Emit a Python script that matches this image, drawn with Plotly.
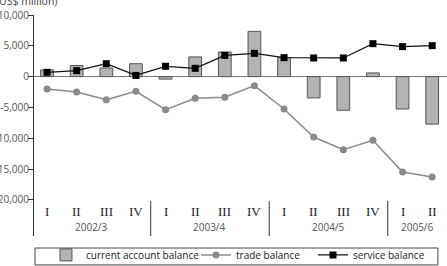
import plotly.graph_objects as go

years = ["2002/3", "2003/4", "2004/5", "2005/6"]
quarters_per_year = [["I", "II", "III", "IV"], ["I", "II", "III", "IV"], ["I", "II", "III", "IV"], ["I", "II"]]
categories = [f"{y} {q}" for y, qs in zip(years, quarters_per_year) for q in qs]
quarter_labels = [q for qs in quarters_per_year for q in qs]

current_account = [1100, 1800, 1400, 2100, -400, 3200, 4000, 7350, 3100, -3450, -5450, 600, -5250, -7700]
trade_balance = [-2000, -2480, -3730, -2380, -5360, -3520, -3350, -1460, -5250, -9790, -11850, -10330, -15470, -16280]
service_balance = [700, 970, 2100, 200, 1680, 1350, 3450, 3780, 3080, 3030, 3030, 5350, 4870, 5030]

y_ticks = [10000, 5000, 0, -5000, -10000, -15000, -20000]
y_tick_text = [f"{v:,}" for v in y_ticks]

SANS = "Open Sans, Noto Sans, sans-serif"
SERIF = "Liberation Serif, DejaVu Serif, serif"

fig = go.Figure()
fig.add_trace(go.Bar(
    x=categories, y=current_account, name="current account balance",
    marker=dict(color="#b3b3b3", line=dict(color="#555555", width=1)),
    width=0.43, legendwidth=105,
))
fig.add_trace(go.Scatter(
    x=categories, y=trade_balance, name="trade balance", mode="lines+markers",
    line=dict(color="#8a8a8a", width=1.5),
    marker=dict(color="#8a8a8a", size=7, symbol="circle"),
    legendwidth=72,
))
fig.add_trace(go.Scatter(
    x=categories, y=service_balance, name="service balance", mode="lines+markers",
    line=dict(color="#111111", width=1.3),
    marker=dict(color="#000000", size=7, symbol="square"),
))

annotations = []
for c, q in zip(categories, quarter_labels):
    annotations.append(dict(x=c, y=0.109, xref="x", yref="paper", text=q, showarrow=False,
                            font=dict(family=SERIF, size=13, color="#222222"),
                            xanchor="center", yanchor="middle"))
idx = 0
shapes = []
for y, qs in zip(years, quarters_per_year):
    n = len(qs)
    center = idx + (n - 1) / 2
    annotations.append(dict(x=center, y=0.041, xref="x", yref="paper", text=y, showarrow=False,
                            font=dict(family=SANS, size=10, color="#555555"),
                            xanchor="center", yanchor="middle"))
    idx += n
    if idx < len(categories):
        shapes.append(dict(type="line", xref="x", yref="paper", x0=idx - 0.5, x1=idx - 0.5,
                           y0=0.0, y1=0.158, line=dict(color="#333333", width=1)))

# legend frame
shapes.append(dict(type="rect", xref="paper", yref="paper", x0=0.0024, x1=0.978,
                   y0=-0.131, y1=-0.0543, line=dict(color="#444444", width=1),
                   fillcolor="rgba(0,0,0,0)", layer="above"))

annotations.append(dict(x=0, y=1, xref="paper", yref="paper", text="(US$ million)", showarrow=False,
                        xanchor="left", yanchor="middle", xshift=-40, yshift=14,
                        font=dict(family=SANS, size=10.5, color="#444444")))

fig.update_layout(
    width=447, height=266,
    margin=dict(l=34, r=0, t=15, b=30, autoexpand=False),
    paper_bgcolor="white", plot_bgcolor="white",
    showlegend=True,
    legend=dict(orientation="h", x=0.029, y=-0.02, xanchor="left", yanchor="top",
                borderwidth=0, bgcolor="rgba(0,0,0,0)",
                font=dict(family=SANS, size=10, color="#222222"),
                traceorder="normal", itemwidth=30, tracegroupgap=0),
    annotations=annotations,
    shapes=shapes,
    bargap=0.3,
)
fig.update_xaxes(type="category", range=[-0.44, 13.5], showticklabels=False, showgrid=False,
                 showline=False, ticks="", zeroline=False)
fig.update_yaxes(range=[-25850, 10000], tickvals=y_ticks, ticktext=y_tick_text, automargin=False,
                 showgrid=False, zeroline=True, zerolinecolor="#777777", zerolinewidth=1,
                 showline=True, linecolor="#333333", linewidth=1,
                 ticks="outside", ticklen=5, tickcolor="#333333", ticklabelstandoff=-3,
                 tickfont=dict(family=SANS, size=10, color="#555555"))

fig.write_html("out.html")
